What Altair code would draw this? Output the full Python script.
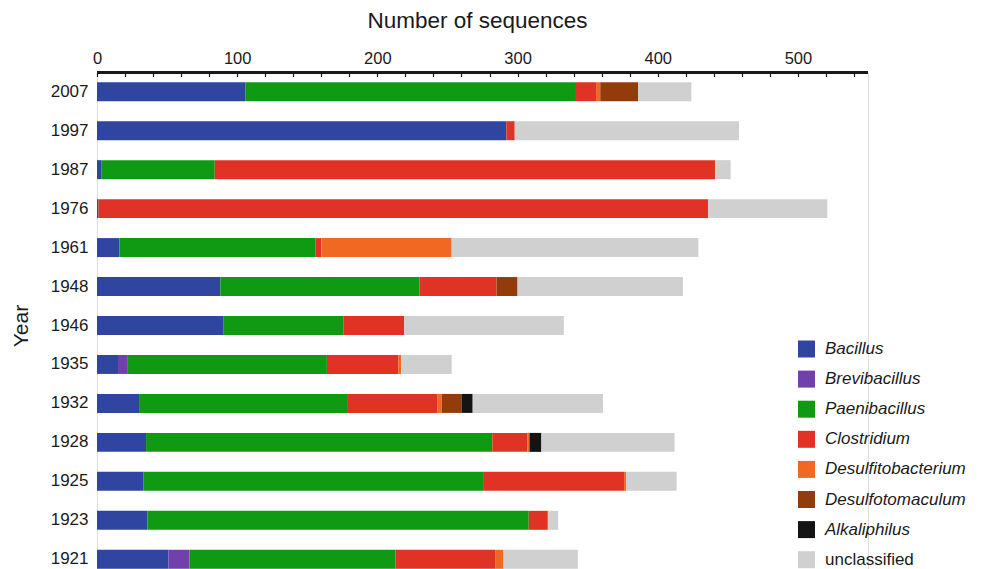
import altair as alt
import pandas as pd

years = ["2007", "1997", "1987", "1976", "1961", "1948", "1946",
         "1935", "1932", "1928", "1925", "1923", "1921"]
genera = ["Bacillus", "Brevibacillus", "Paenibacillus", "Clostridium",
          "Desulfitobacterium", "Desulfotomaculum", "Alkaliphilus", "unclassified"]
colors = ["#2f45a0", "#7140ad", "#109a14", "#e03325", "#f06822", "#923b0b",
          "#141414", "#cfd0cf"]

bacillus = [106, 292, 3, 1, 16, 88, 90, 15, 30, 35, 33, 36, 51]
brevibacillus = [0, 0, 0, 0, 0, 0, 0, 7, 0, 0, 0, 0, 15]
paenibacillus = [235, 0, 81, 0, 140, 142, 86, 142, 149, 247, 243, 272, 147]
clostridium = [15, 6, 357, 435, 4, 55, 43, 51, 64, 25, 100, 13, 71]
desulfitobacterium = [3, 0, 0, 0, 93, 0, 0, 2, 3, 1.5, 1.5, 1, 6]
desulfotomaculum = [27, 0, 0, 0, 0, 15, 0, 0, 14, 0, 0, 0, 0]
alkaliphilus = [0, 0, 0, 0, 0, 0, 0, 0, 8, 8.5, 0, 0, 0]
unclassified = [38, 160, 11, 85, 176, 118, 114, 36, 93, 95, 36, 7, 53]

x_ticks = list(range(0, 560, 20))
axis_domain = [0, 550]

series = [bacillus, brevibacillus, paenibacillus, clostridium,
          desulfitobacterium, desulfotomaculum, alkaliphilus, unclassified]
rows = []
for gi, (g, vals) in enumerate(zip(genera, series)):
    for y, v in zip(years, vals):
        if v > 0:
            rows.append({"Year": y, "Genus": g, "Count": v, "order": gi})
df = pd.DataFrame(rows)

FONT = "Liberation Sans"
TXT = "#1a1a1a"

bars = alt.Chart(df).mark_bar().encode(
    x=alt.X("Count:Q", stack="zero",
            scale=alt.Scale(domain=axis_domain, nice=False, zero=True),
            axis=alt.Axis(orient="top", title="Number of sequences",
                          values=x_ticks, tickCount=len(x_ticks),
                          labelExpr="datum.value % 100 == 0 ? datum.label : ''",
                          labelOverlap=False, labelFlush=False,
                          domain=False, grid=False,
                          offset=-4, tickSize=4, tickWidth=1.2, tickColor=TXT,
                          labelPadding=6, labelFontSize=16.5, labelFont=FONT,
                          labelColor=TXT, titleFont=FONT, titleFontSize=22.5,
                          titleFontWeight="normal", titleColor=TXT,
                          titlePadding=18, titleX=380, titleAlign="center")),
    y=alt.Y("Year:N", sort=years,
            scale=alt.Scale(paddingInner=0.513, paddingOuter=0.25),
            axis=alt.Axis(title="Year", ticks=False, tickSize=0, domain=False,
                          labelPadding=9, labelFontSize=17, labelFont=FONT,
                          labelColor=TXT, titleFont=FONT, titleFontSize=21,
                          titleFontWeight="normal", titleColor=TXT,
                          titlePadding=19)),
    color=alt.Color("Genus:N",
                    scale=alt.Scale(domain=genera, range=colors),
                    legend=alt.Legend(title=None, orient="none",
                                      legendX=701, legendY=268,
                                      symbolType="square", symbolSize=289,
                                      symbolStrokeWidth=0, symbolOpacity=1,
                                      labelFontSize=17, labelFont=FONT,
                                      labelColor=TXT, labelOffset=10,
                                      rowPadding=12.1, labelLimit=300,
                                      labelFontStyle=alt.ExprRef(
                                          "datum.label == 'unclassified' ? 'normal' : 'italic'"))),
    order=alt.Order("order:Q", sort="ascending"),
)

domain_line = alt.Chart(df).mark_rule(color=TXT, strokeWidth=1.3).encode(
    x=alt.datum(axis_domain[0]),
    x2=alt.datum(axis_domain[1]),
    y=alt.value(0),
)

chart = alt.layer(bars, domain_line).properties(
    width=771, height=506,
    padding={"left": 2, "top": 1.5, "right": 5, "bottom": 5},
).configure_view(stroke=None).configure(background="white")

chart.save("out.html", embed_options={"renderer": "svg", "actions": False})
